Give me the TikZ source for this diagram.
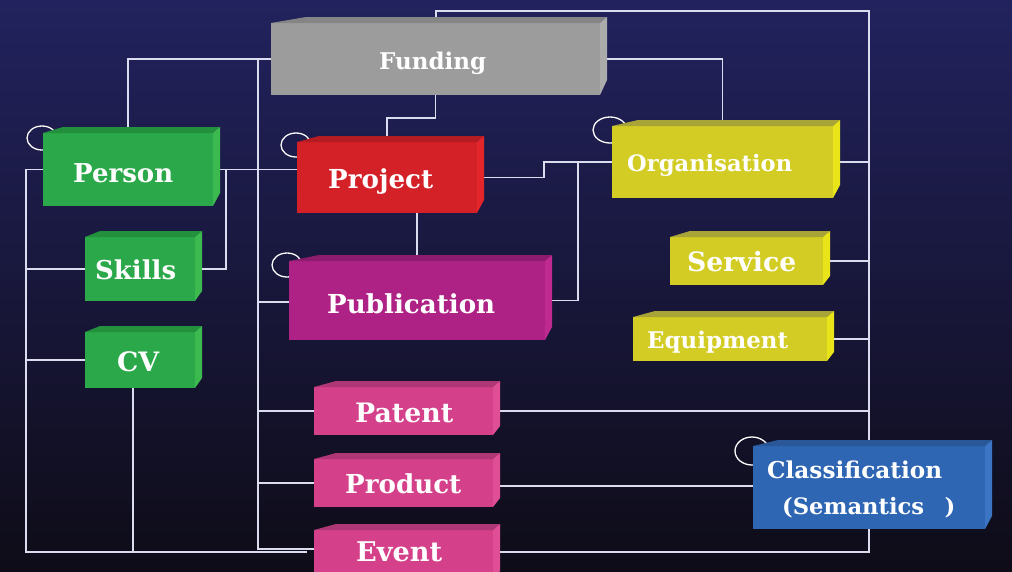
\documentclass[tikz,border=0pt]{standalone}
\usepackage{fontspec}
\setmainfont{DejaVu Serif}
\usetikzlibrary{calc,fit}
\pgfdeclarelayer{bglayer}
\pgfdeclarelayer{connlayer}
\pgfsetlayers{bglayer,connlayer,main}
\newcommand\fitw[2]{\resizebox{#1pt}{!}{\bfseries #2}}
\definecolor{bgtop}{HTML}{22225E}
\definecolor{bgmid}{HTML}{0F1043}
\definecolor{bgbot}{HTML}{0E0C17}
\definecolor{lineC}{HTML}{DCDCF0}
\definecolor{grayF}{HTML}{9C9C9C}\definecolor{grayT}{HTML}{858585}\definecolor{grayS}{HTML}{ABABAB}
\definecolor{greenF}{HTML}{2BA94A}\definecolor{greenT}{HTML}{23903D}\definecolor{greenS}{HTML}{3CBA50}
\definecolor{redF}{HTML}{D42027}\definecolor{redT}{HTML}{B51C22}\definecolor{redS}{HTML}{E2262C}
\definecolor{yelF}{HTML}{D2CC24}\definecolor{yelT}{HTML}{A9A437}\definecolor{yelS}{HTML}{E9E31A}
\definecolor{pubF}{HTML}{AE2286}\definecolor{pubT}{HTML}{8E1C6E}\definecolor{pubS}{HTML}{BF2A90}
\definecolor{pinkF}{HTML}{D4418A}\definecolor{pinkT}{HTML}{B03775}\definecolor{pinkS}{HTML}{E04F96}
\definecolor{blueF}{HTML}{2E66B3}\definecolor{blueT}{HTML}{2A5797}\definecolor{blueS}{HTML}{3B75C4}
% #1 name, #2 x1, #3 y1 (front top), #4 x2 (front right), #5 y2, #6 colour family, #7 top slant, #8 bottom slant
\newcommand\cubebox[8]{%
  \node[fit={(#2,#3)(#4,#5)}, inner sep=0pt, outer sep=0pt, fill=#6F, draw=none] (#1) {};
  \fill[#6T] (#1.north west) -- ++(#7,-6) -- ($(#1.north east)+(7,-6)$) -- (#1.north east) -- cycle;
  \fill[#6S] (#1.north east) -- ++(7,-6) -- ($(#1.south east)+(7,-#8)$) -- (#1.south east) -- cycle;
}
\tikzset{
  conn/.style={draw=lineC, line width=1.2pt},
  loopc/.style={draw=white, line width=1.3pt},
  lbl/.style={anchor=base west, inner sep=0pt, text=white}
}
\begin{document}
\begin{tikzpicture}[x=1pt,y=-1pt]
\useasboundingbox (0,0) rectangle (1012,571);
\begin{pgfonlayer}{bglayer}
\shade[top color=bgtop, middle color=bgmid, bottom color=bgbot] (0,0) rectangle (1012,571);
\end{pgfonlayer}
\clip (0,0) rectangle (1012,571);

% boxes (front faces as named nodes)
\cubebox{Funding}{271}{23}{600}{95}{gray}{35}{15}
\cubebox{Person}{43}{133}{213}{206}{green}{20}{13}
\cubebox{Project}{297}{142}{477}{213}{red}{22}{13}
\cubebox{Organisation}{612}{126}{833}{198}{yel}{26}{13}
\cubebox{Service}{670}{237}{823}{285}{yel}{20}{9}
\cubebox{Equipment}{633}{317}{827}{361}{yel}{22}{9}
\cubebox{Skills}{85}{237}{195}{301}{green}{15}{10}
\cubebox{CV}{85}{332}{195}{388}{green}{15}{10}
\cubebox{Publication}{289}{261}{545}{340}{pub}{30}{13}
\cubebox{Patent}{314}{387}{493}{435}{pink}{22}{9}
\cubebox{Product}{314}{459}{493}{507}{pink}{22}{9}
\cubebox{Event}{314}{530}{493}{580}{pink}{22}{9}
\cubebox{Classification}{753}{446}{985}{529}{blue}{25}{13}

% bus coordinates
\coordinate (rbus) at (869,11);
\coordinate (lbus) at (26,552);
\coordinate (mbus) at (258,549);

\begin{pgfonlayer}{connlayer}
% self-loops
\draw[loopc] (42,138) ellipse [x radius=15pt, y radius=12pt];
\draw[loopc] (296,145) ellipse [x radius=15pt, y radius=12pt];
\draw[loopc] (610,130) ellipse [x radius=17pt, y radius=13pt];
\draw[loopc] (287,265) ellipse [x radius=15pt, y radius=12pt];
\draw[loopc] (752,451) ellipse [x radius=17pt, y radius=14pt];
% right bus
\draw[conn] (Funding.north -| 436,0) -- (436,11) -- (rbus) -- (869,552) -- (Event.east |- 0,552);
\draw[conn] (Organisation.east) -- (Organisation.east -| rbus);
\draw[conn] (Service.east) -- (Service.east -| rbus);
\draw[conn] (Equipment.east) -- (Equipment.east -| rbus);
\draw[conn] (Patent.east |- 0,411) -- (869,411);
\draw[conn] (Product.east |- 0,486) -- (Classification.west |- 0,486);
% funding
\draw[conn] (Funding.west) -| (Person.north -| 128,0);
\draw[conn] (Funding.west -| mbus) -- (mbus) -- (Event.west |- mbus);
\draw[conn] (Publication.west |- 0,302) -- (258,302);
\draw[conn] (Patent.west |- 0,411) -- (258,411);
\draw[conn] (Product.west) -- (Product.west -| mbus);
\draw[conn] (Funding.south) -- ++(0,23) -| (Project.north);
\draw[conn] (Funding.east) -| (Organisation.north);
% project / organisation / publication
\draw[conn] (Project.east) -- ++(67,0) |- (Organisation.west);
\draw[conn] (Publication.east) -| (Organisation.west -| 578,0);
\draw[conn] (Publication.north |- Project.south) -- (Publication.north);
% person group
\draw[conn] (Person.east) -- (Project.west |- Person.east);
\draw[conn] (Skills.east) -| (Person.east -| 226,0);
\draw[conn] (Person.west) -| (lbus) -- ($(Event.west |- lbus)+(-7,0)$);
\draw[conn] (Skills.west) -- (Skills.west -| lbus);
\draw[conn] (CV.west) -- (CV.west -| lbus);
\draw[conn] (CV.south -| 133,0) -- (133,552);
\end{pgfonlayer}

% labels
\node[lbl] (tFunding) at (379,69) {\fitw{107}{Funding}};
\node[lbl] (tPerson) at (73,182) {\fitw{100}{Person}};
\node[lbl] (tProject) at (328,188) {\fitw{105}{Project}};
\node[lbl] (tOrganisation) at (627,171) {\fitw{165}{Organisation}};
\node[lbl] (tService) at (687,271) {\fitw{109}{Service}};
\node[lbl] (tEquipment) at (647,348) {\fitw{141}{Equipment}};
\node[lbl] (tSkills) at (95,279) {\fitw{81}{Skills}};
\node[lbl] (tCV) at (117,371) {\fitw{42}{CV}};
\node[lbl] (tPublication) at (327,313) {\fitw{168}{Publication}};
\node[lbl] (tPatent) at (355,422) {\fitw{98}{Patent}};
\node[lbl] (tProduct) at (345,493) {\fitw{116}{Product}};
\node[lbl] (tEvent) at (356,561) {\fitw{86}{Event}};
\node[lbl] (tClass) at (767,478) {\fitw{175}{Classification}};
\node[lbl] (tSem) at (782,514) {\fitw{173}{(Semantics\hspace{0.9em})}};
\end{tikzpicture}
\end{document}
